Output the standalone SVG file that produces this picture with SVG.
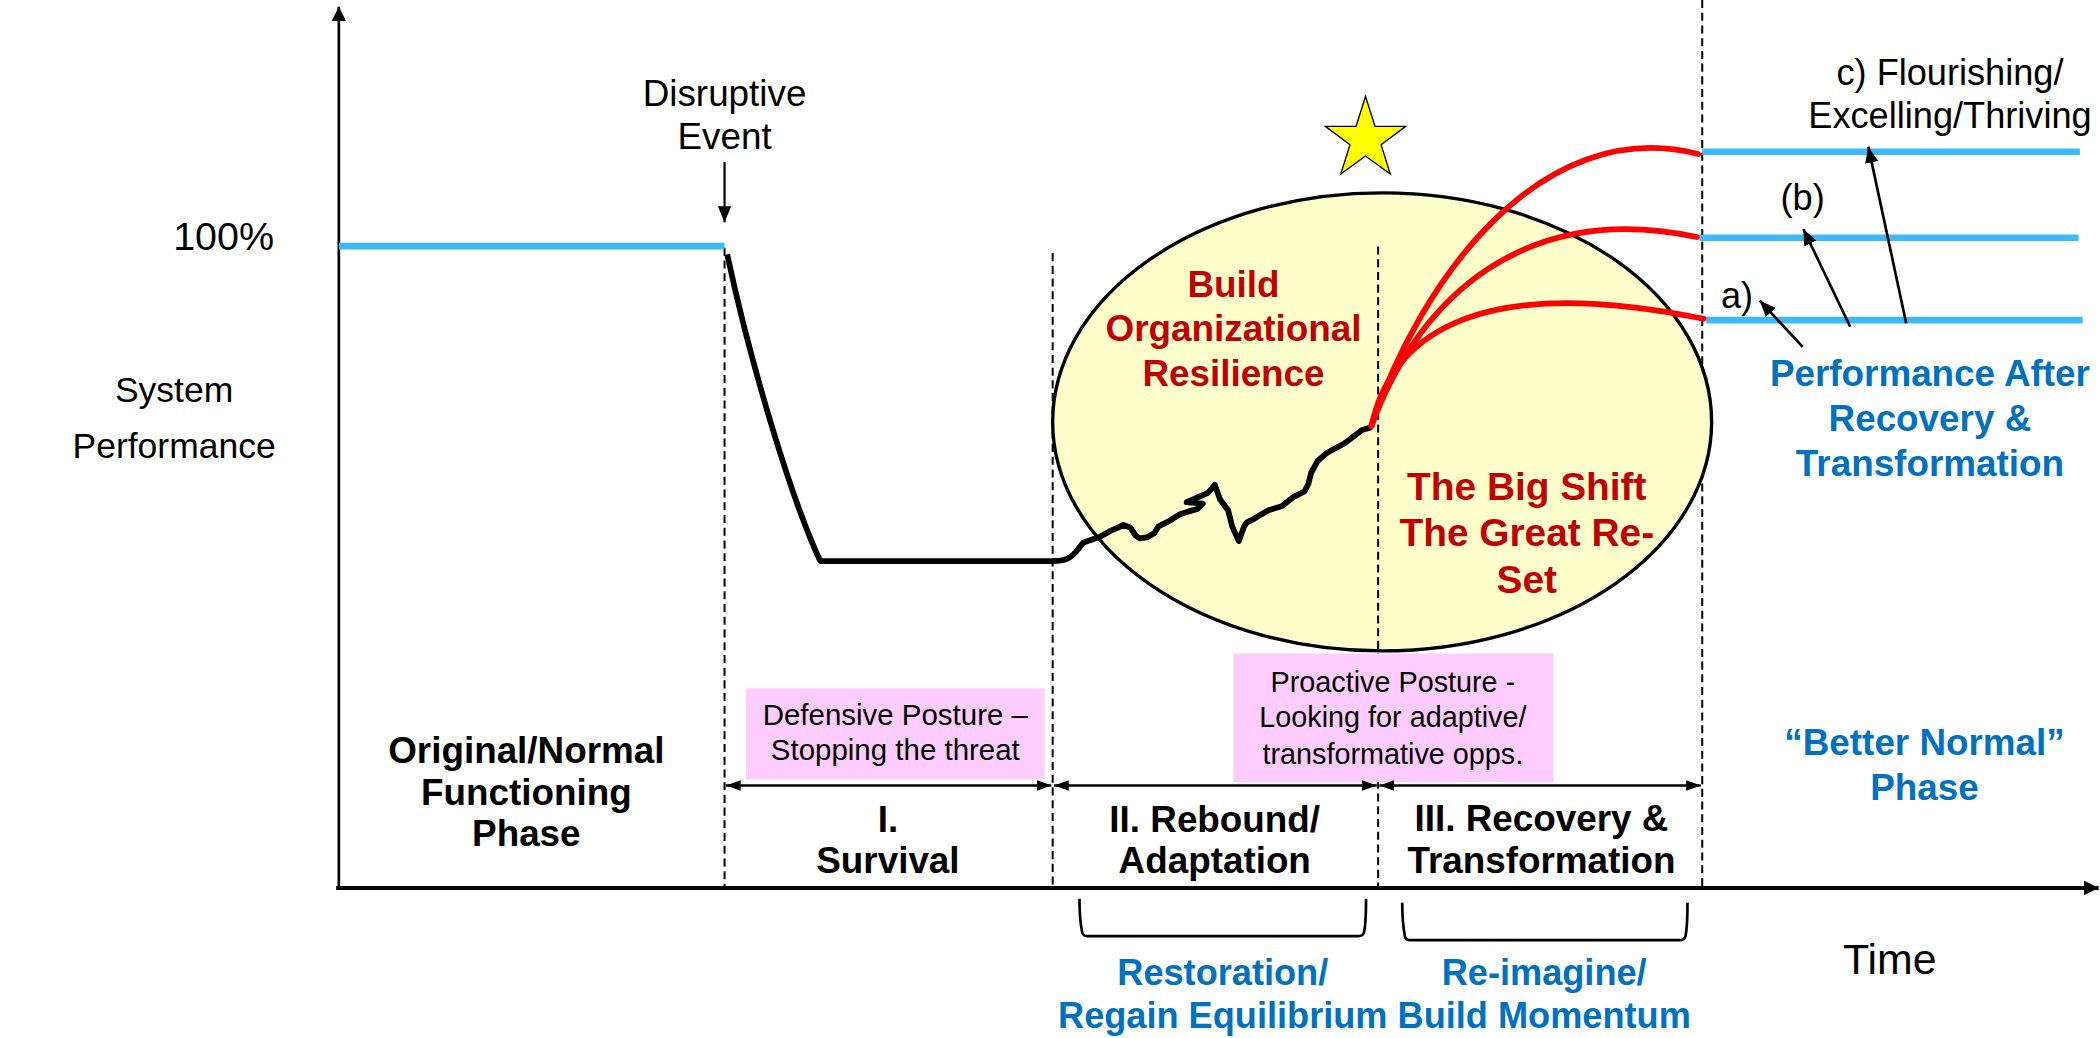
<svg xmlns="http://www.w3.org/2000/svg" width="2100" height="1038" viewBox="0 0 2100 1038">
<style>
text { font-family: "Liberation Sans", Arial, sans-serif; fill: #000; text-anchor: middle; }
.b { font-weight: bold; }
.red { fill: #C00000; font-weight: bold; }
.blue { fill: #0070C0; font-weight: bold; }
.dash { stroke: #000; stroke-width: 1.5; stroke-dasharray: 6 3.5; fill: none; }
.lvl { stroke: #3CBAF6; stroke-width: 5; fill: none; }
.redc { stroke: #FF0000; stroke-width: 4.3; fill: none; stroke-linecap: round; }
.pink { fill: #FFCCFF; }
.conn { stroke: #000; stroke-width: 2; fill: none; }
</style>
<defs>
<marker id="ah" viewBox="0 0 11 8" refX="11" refY="4" markerWidth="11" markerHeight="8" markerUnits="userSpaceOnUse" orient="auto-start-reverse"><path d="M0,0 L11,4 L0,8 z" fill="#000"/></marker>
<marker id="axh" viewBox="0 0 11 11" refX="11" refY="5.5" markerWidth="11" markerHeight="11" markerUnits="userSpaceOnUse" orient="auto"><path d="M0,0 L11,5.5 L0,11 z" fill="#000"/></marker>
<marker id="bh" viewBox="0 0 12 10" refX="12" refY="5" markerWidth="12" markerHeight="10" markerUnits="userSpaceOnUse" orient="auto"><path d="M0,0 L12,5 L0,10 z" fill="#000"/></marker>
</defs>
<rect width="2100" height="1038" fill="#fff"/>
<g transform="scale(1.339286)">
  <g id="axes">
    <line class="conn" x1="253" y1="664" x2="253" y2="5" marker-end="url(#axh)"/>
    <line x1="251" y1="663" x2="1567" y2="663" stroke="#000" stroke-width="3" marker-end="url(#axh)"/>
    <text x="167" y="187" font-size="29.5">100%</text>
    <text font-size="26.5"><tspan x="130" y="300">System</tspan><tspan x="130" y="342">Performance</tspan></text>
    <text x="1411" y="727" font-size="32">Time</text>
  </g>
  <g id="phase-dividers">
    <line class="dash" x1="541" y1="185" x2="541" y2="662"/>
    <line class="dash" x1="786" y1="189" x2="786" y2="662"/>
    <line class="dash" x1="1271" y1="0" x2="1271" y2="662"/>
  </g>
  <g id="resilience-ellipse">
    <ellipse cx="1032" cy="315" rx="246" ry="171" fill="#FFFFCC" stroke="#000" stroke-width="2.5"/>
    <line class="dash" x1="1029" y1="184" x2="1029" y2="662"/>
    <text class="red" font-size="27.5"><tspan x="921" y="221.5">Build</tspan><tspan x="921" y="254.5">Organizational</tspan><tspan x="921" y="288">Resilience</tspan></text>
    <text class="red" font-size="29"><tspan x="1140" y="373">The Big Shift</tspan><tspan x="1140" y="408">The Great Re-</tspan><tspan x="1140" y="443">Set</tspan></text>
  </g>
  <g id="star">
    <polygon points="1019.6,72 1026.7,94.3 1049.6,94.3 1031.2,108 1038.1,130 1019.6,116.5 1001.1,130 1008,108 989.6,94.3 1012.5,94.3" fill="#FFFF00" stroke="#000" stroke-width="1"/>
  </g>
  <g id="levels">
    <line class="lvl" x1="253" y1="183.7" x2="541" y2="183.7"/>
    <line class="lvl" x1="1271" y1="113.3" x2="1553" y2="113.3"/>
    <line class="lvl" x1="1269" y1="177.5" x2="1552" y2="177.5"/>
    <line class="lvl" x1="1274" y1="239" x2="1555" y2="239"/>
  </g>
  <g id="performance-curve">
    <path d="M543,190 C560,270 590,370 612,418 L613,419 L786,419 C795,419 800,417 805,410 L809,405 L815,403 L821,401 L830,396 L839,392 L844,394 L848,400 L851,402 L857,401 L862,398 L865,393 L873,389 L881,384 L887,382 L894,380 L898,376 L886,375 L902,368 L907,362 L911,373 L917,381 L920,393 L925,404 L929,393 L931,390 L937,387 L947,381 L957,378 L962,374 L966,371 L974,367 L977,361 L979,353 L984,344 L991,338 L1004,331 L1017,321 L1024,319" fill="none" stroke="#000" stroke-width="4.3" stroke-linejoin="round"/>
  </g>
  <g id="recovery-paths">
    <path class="redc" d="M1024,318 C1060,210 1150,85 1268,115"/>
    <path class="redc" d="M1024,318 C1060,220 1140,150 1267,177"/>
    <path class="redc" d="M1024,318 C1040,245 1110,205 1272,238"/>
  </g>
  <g id="disruptive-event">
    <text font-size="27.5"><tspan x="541" y="79">Disruptive</tspan><tspan x="541" y="111">Event</tspan></text>
    <line x1="541" y1="121" x2="541" y2="166" stroke="#000" stroke-width="1.6" marker-end="url(#bh)"/>
  </g>
  <g id="outcome-labels">
    <text font-size="27"><tspan x="1456" y="63.5">c) Flourishing/</tspan><tspan x="1456" y="95.6">Excelling/Thriving</tspan></text>
    <text x="1346" y="157" font-size="27">(b)</text>
    <text x="1297" y="230" font-size="27">a)</text>
    <line class="conn" x1="1346" y1="259" x2="1314" y2="224.5" marker-end="url(#bh)"/>
    <line class="conn" x1="1381.5" y1="244" x2="1346.5" y2="171" marker-end="url(#bh)"/>
    <line class="conn" x1="1423.3" y1="241.4" x2="1395" y2="109.5" marker-end="url(#bh)"/>
    <text class="blue" font-size="27.5"><tspan x="1441" y="288">Performance After</tspan><tspan x="1441" y="321.6">Recovery &amp;</tspan><tspan x="1441" y="355.4">Transformation</tspan></text>
  </g>
  <g id="posture-boxes">
    <rect class="pink" x="557" y="514" width="223" height="68"/>
    <text font-size="22"><tspan x="668.5" y="541.3">Defensive Posture –</tspan><tspan x="668.5" y="567.5">Stopping the threat</tspan></text>
    <rect class="pink" x="921" y="488" width="239" height="96"/>
    <text font-size="21.5"><tspan x="1040" y="516.4">Proactive Posture -</tspan><tspan x="1040" y="542.6">Looking for adaptive/</tspan><tspan x="1040" y="570.4">transformative opps.</tspan></text>
  </g>
  <g id="phase-spans">
    <line class="conn" x1="542" y1="586.5" x2="785" y2="586.5" marker-start="url(#ah)" marker-end="url(#ah)"/>
    <line class="conn" x1="787" y1="586.5" x2="1028" y2="586.5" marker-start="url(#ah)" marker-end="url(#ah)"/>
    <line class="conn" x1="1030" y1="586.5" x2="1270" y2="586.5" marker-start="url(#ah)" marker-end="url(#ah)"/>
  </g>
  <g id="phase-labels">
    <text class="b" font-size="27.5"><tspan x="393" y="570">Original/Normal</tspan><tspan x="393" y="601">Functioning</tspan><tspan x="393" y="632">Phase</tspan></text>
    <text class="b" font-size="27.5"><tspan x="663" y="621">I.</tspan><tspan x="663" y="652">Survival</tspan></text>
    <text class="b" font-size="27.5"><tspan x="907" y="621">II. Rebound/</tspan><tspan x="907" y="652">Adaptation</tspan></text>
    <text class="b" font-size="27.5"><tspan x="1151" y="620.5">III. Recovery &amp;</tspan><tspan x="1151" y="652">Transformation</tspan></text>
    <text class="blue" font-size="27.5"><tspan x="1437" y="564">“Better Normal”</tspan><tspan x="1437" y="597">Phase</tspan></text>
  </g>
  <g id="sub-phases">
    <path class="conn" d="M806,671 C806,682 807,691 808,696 Q808.5,699 812,699 L1014,699 Q1018,699 1018.5,696 C1019.5,691 1020,682 1020,671"/>
    <path class="conn" d="M1047,674 C1047,685 1048,694 1049,699 Q1049.5,702 1053,702 L1254,702 Q1258,702 1258.5,699 C1259.5,694 1260,685 1260,674"/>
    <text class="blue" font-size="27"><tspan x="913" y="735.5">Restoration/</tspan><tspan x="913" y="767.6">Regain Equilibrium</tspan></text>
    <text class="blue" font-size="27"><tspan x="1153" y="735.5">Re-imagine/</tspan><tspan x="1153" y="767.6">Build Momentum</tspan></text>
  </g>
</g>
</svg>
